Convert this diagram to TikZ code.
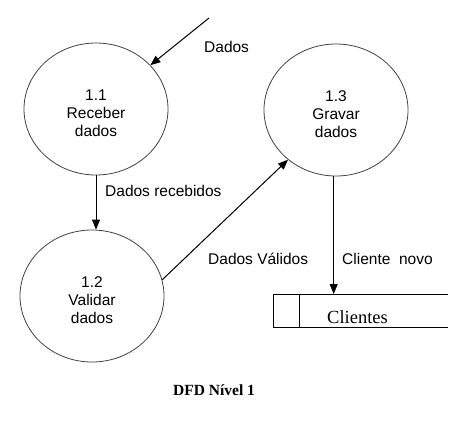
\documentclass[tikz,border=0pt]{standalone}
\usepackage{fontspec}
\setmainfont{Liberation Sans}
\newfontfamily\serifnode{Liberation Serif}
\usetikzlibrary{shapes.geometric,arrows.meta}
\tikzset{
  proc/.style={ellipse, draw=black!75, line width=0.8pt, minimum width=144pt, minimum height=132pt, inner sep=0pt},
  ptext/.style={align=center, inner sep=0pt, font=\fontsize{15.5}{18}\selectfont},
  lab/.style={inner sep=0pt, anchor=base west, font=\fontsize{15.5}{18}\selectfont},
  arr/.style={line width=1pt, -{Triangle[length=10pt,width=8pt]}},
  storeline/.style={line width=1pt}
}
\begin{document}
\begin{tikzpicture}[x=1pt,y=-1pt]
\useasboundingbox (0,0) rectangle (465,431);
% processes
\node[proc] (p1) at (96,109) {};
\node[ptext] at ([yshift=-4pt]p1.center) {1.1\\Receber\\dados};
\node[proc] (p2) at (92,296) {};
\node[ptext] at ([yshift=-4pt]p2.center) {1.2\\Validar\\dados};
\node[proc] (p3) at (336,110) {};
\node[ptext] at ([yshift=-4pt]p3.center) {1.3\\Gravar\\dados};
% data store
\node[minimum width=175pt, minimum height=33pt, inner sep=0pt, anchor=north west] (st) at (273,294) {};
\draw[storeline] (st.north east) -- (st.north west) -- (st.south west);
\draw[storeline] (st.south west) -- (st.south east);
\coordinate (div) at (299,294);
\draw[storeline] (div) -- (div |- st.south);
\node[inner sep=0pt, anchor=base west, font=\serifnode\fontsize{18.5}{22}\selectfont] at (327,323) {Clientes};
% flows
\coordinate (din) at (209,18);
\draw[arr] (din) -- (p1);
\draw[arr] (p1.south) -- (p1.south |- p2.north);
\draw[arr] (p2.13) -- (p3.226);
\draw[arr] (p3.268) -- (p3.268 |- st.north);
% labels
\node[lab] at (204,52) {Dados};
\node[lab] at (105,196) {Dados recebidos};
\node[lab] at (208,264) {Dados Válidos};
\node[lab] at (342,264) {Cliente\ \ novo};
\node[inner sep=0pt, anchor=base west, font=\serifnode\bfseries\fontsize{15.5}{18}\selectfont] at (173,395) {DFD Nível 1};
\end{tikzpicture}
\end{document}
